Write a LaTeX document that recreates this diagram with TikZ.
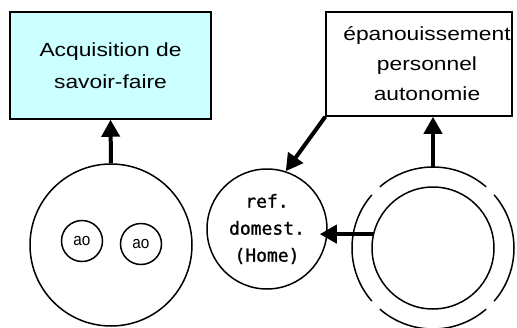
\documentclass[tikz,border=0pt]{standalone}
\usepackage{fontspec}
\usetikzlibrary{arrows.meta}
\newfontfamily\boxfont[FakeStretch=1.2]{Liberation Sans}
\newfontfamily\aofont[FakeStretch=0.9]{Liberation Sans}
\newfontfamily\homefont[FakeBold=1.2]{DejaVu Sans Mono}
\definecolor{BoxCyan}{HTML}{CCFFFF}

\begin{document}
\begin{tikzpicture}[x=1pt,y=-1pt,
  textbox/.style={draw=black,line width=1.5pt,inner sep=0pt},
  ring/.style={circle,draw=black,line width=1.5pt,inner sep=0pt},
  flow/.style={line width=4pt,-{Triangle[length=17pt,width=18pt]}}]
  \useasboundingbox (0,0) rectangle (517,327);

  % boxes at the top
  \node[textbox,fill=BoxCyan,minimum width=201pt,minimum height=107pt,align=center,
    font=\boxfont\fontsize{19}{32}\selectfont] (acq) at (110.5,65.5) {Acquisition de\\savoir-faire};
  \node[textbox,minimum width=186pt,minimum height=104pt] (auto) at (419,64) {};
  \node[align=center,inner sep=0pt,font=\boxfont\fontsize{19}{30}\selectfont] (autotext) at (427,64)
    {épanouissement\\personnel\\autonomie};

  % circles
  \node[ring,minimum size=162pt] (grp) at (111,245) {};
  \node[ring,minimum size=41pt,font=\aofont\fontsize{17}{18}\selectfont] (ao1) at (82,241) {ao};
  \node[ring,minimum size=41pt,font=\aofont\fontsize{17}{18}\selectfont] (ao2) at (141,244) {ao};
  \node[ring,minimum size=120pt,align=center,font=\homefont\fontsize{18}{27}\selectfont] (home) at (267,229)
    {ref.\\domest.\\(Home)};
  \node[ring,minimum size=122pt] (self) at (433,248) {};
  \foreach \a in {49,139,229,319} {
    \draw[line width=1.5pt] ([shift={(\a:81)}]self.center) arc[start angle=\a,delta angle=82,radius=81];
  }
  \coordinate (selftop) at ([yshift=81pt]self.center);

  % arrows
  \draw[flow] (grp.north) -- (acq.south);
  \draw[flow] (selftop) -- (selftop |- auto.south);
  \draw[flow] (auto.south west) -- (home.72);
  \draw[flow,shorten >=-8pt] (self.167) -- (self.167 -| home.east);
\end{tikzpicture}
\end{document}
